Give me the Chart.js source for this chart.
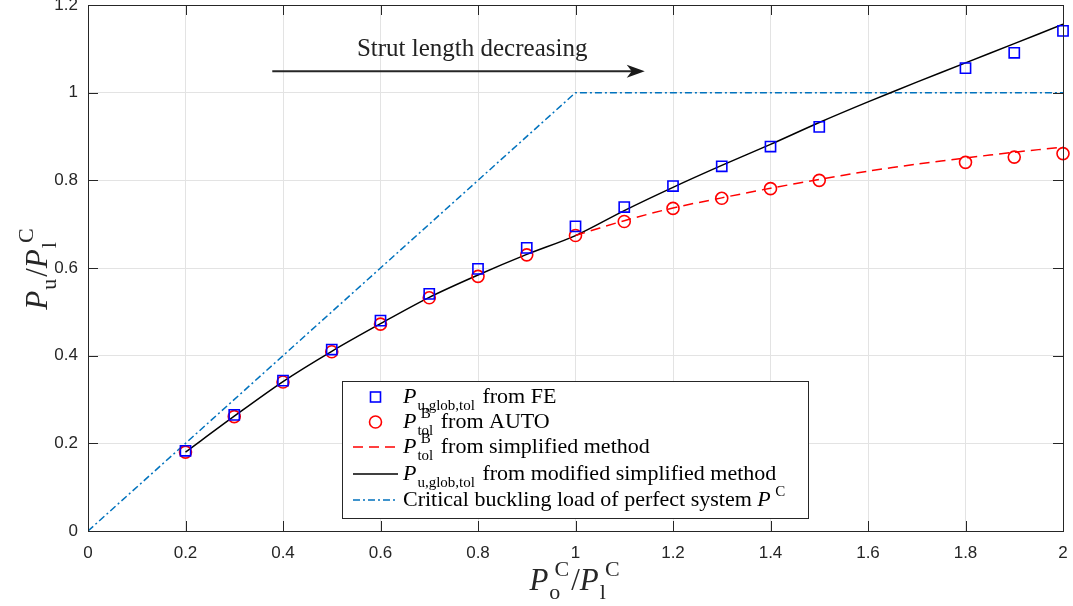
<!DOCTYPE html>
<html>
<head>
<meta charset="utf-8">
<script src="https://cdn.jsdelivr.net/npm/chart.js@4"></script>
<style>
  body { margin: 0; background: #fff; }
</style>
</head>
<body>
<canvas id="chart" width="1073" height="606"></canvas>
<script>
// ---- data ----
const xFE = [0.2, 0.3, 0.4, 0.5, 0.6, 0.7, 0.8, 0.9, 1.0, 1.1, 1.2, 1.3, 1.4, 1.5, 1.8, 1.9, 2.0];
const yFE = [0.183, 0.265, 0.343, 0.414, 0.480, 0.541, 0.598, 0.646, 0.695, 0.739, 0.787, 0.832, 0.877, 0.922, 1.056, 1.091, 1.141];

const xAuto = [0.2, 0.3, 0.4, 0.5, 0.6, 0.7, 0.8, 0.9, 1.0, 1.1, 1.2, 1.3, 1.4, 1.5, 1.8, 1.9, 2.0];
const yAuto = [0.180, 0.261, 0.340, 0.409, 0.472, 0.532, 0.581, 0.630, 0.674, 0.706, 0.736, 0.759, 0.781, 0.800, 0.841, 0.853, 0.861];

const xSimp = [1.0, 1.1, 1.2, 1.3, 1.4, 1.5, 1.6, 1.7, 1.8, 1.9, 2.0];
const ySimp = [0.674, 0.708, 0.737, 0.760, 0.782, 0.802, 0.821, 0.837, 0.851, 0.864, 0.876];

const xMod = [0.2, 0.3, 0.4, 0.5, 0.6, 0.7, 0.8, 0.9, 1.0, 1.1, 1.2, 1.3, 1.4, 1.5, 1.6, 1.7, 1.8, 1.9, 2.0];
const yMod = [0.180, 0.262, 0.341, 0.410, 0.473, 0.533, 0.584, 0.631, 0.674, 0.731, 0.784, 0.834, 0.882, 0.932, 0.979, 1.024, 1.068, 1.112, 1.156];

const xCrit = [0, 1, 2];
const yCrit = [0, 1, 1];

const xTicks = [0, 0.2, 0.4, 0.6, 0.8, 1, 1.2, 1.4, 1.6, 1.8, 2];
const yTicks = [0, 0.2, 0.4, 0.6, 0.8, 1, 1.2];

const arrowText = 'Strut length decreasing';
const arrowFrom = [0.378, 1.049];
const arrowTo = [1.142, 1.049];
const arrowTextAt = [0.788, 1.101];

// legend entries as rich text pieces
const legendLabels = [
  [{t: 'P', i: true}, {sub: 'u,glob,tol'}, {t: ' from FE'}],
  [{t: 'P', i: true}, {sup: 'B', sub: 'tol'}, {t: ' from AUTO'}],
  [{t: 'P', i: true}, {sup: 'B', sub: 'tol'}, {t: ' from simplified method'}],
  [{t: 'P', i: true}, {sub: 'u,glob,tol'}, {t: ' from modified simplified method'}],
  [{t: 'Critical buckling load of perfect system '}, {t: 'P', i: true}, {sup: 'C'}]
];
const xTitle = [{t: 'P', i: true}, {sup: 'C', sub: 'o'}, {t: '/'}, {t: 'P', i: true}, {sup: 'C', sub: 'l'}];
const yTitle = [{t: 'P', i: true}, {sub: 'u'}, {t: '/'}, {t: 'P', i: true}, {sup: 'C', sub: 'l'}];

const pts = (xs, ys) => xs.map((v, k) => ({x: v, y: ys[k]}));

const SERIF = '"Liberation Serif", "DejaVu Serif", serif';
const SUP_DX = 0.2;

function richWidth(ctx, parts, size) {
  let w = 0;
  parts.forEach(p => {
    if (p.t !== undefined) {
      ctx.font = (p.i ? 'italic ' : '') + size + 'px ' + SERIF;
      w += ctx.measureText(p.t).width;
    } else {
      ctx.font = Math.round(size * 0.7) + 'px ' + SERIF;
      const a = p.sup ? ctx.measureText(p.sup).width + size * SUP_DX : 0;
      const b = p.sub ? ctx.measureText(p.sub).width + 1 : 0;
      w += Math.max(a, b) + 2;
    }
  });
  return w;
}

function richText(ctx, parts, x, y, size, color) {
  ctx.fillStyle = color;
  ctx.textBaseline = 'alphabetic';
  ctx.textAlign = 'left';
  parts.forEach(p => {
    if (p.t !== undefined) {
      ctx.font = (p.i ? 'italic ' : '') + size + 'px ' + SERIF;
      ctx.fillText(p.t, x, y);
      x += ctx.measureText(p.t).width;
    } else {
      ctx.font = Math.round(size * 0.7) + 'px ' + SERIF;
      let w = 0;
      if (p.sup) {
        // italic P leans right, so the superscript sits a bit further out
        ctx.fillText(p.sup, x + size * SUP_DX, y - size * 0.46);
        w = ctx.measureText(p.sup).width + size * SUP_DX;
      }
      if (p.sub) {
        ctx.fillText(p.sub, x + 1, y + size * 0.3);
        w = Math.max(w, ctx.measureText(p.sub).width + 1);
      }
      x += w + 2;
    }
  });
}

const overlay = {
  id: 'overlay',
  afterDraw(chart) {
    const {ctx, chartArea: a, scales: {x, y}} = chart;
    ctx.save();
    // box and inward ticks
    ctx.strokeStyle = '#262626';
    ctx.lineWidth = 1;
    ctx.strokeRect(Math.round(a.left) + 0.5, Math.round(a.top) + 0.5, Math.round(a.right - a.left), Math.round(a.bottom - a.top));
    ctx.beginPath();
    xTicks.forEach(v => {
      const px = Math.round(x.getPixelForValue(v)) + 0.5;
      ctx.moveTo(px, a.bottom); ctx.lineTo(px, a.bottom - 10);
      ctx.moveTo(px, a.top); ctx.lineTo(px, a.top + 10);
    });
    yTicks.forEach(v => {
      const py = Math.round(y.getPixelForValue(v)) + 0.5;
      ctx.moveTo(a.left, py); ctx.lineTo(a.left + 10, py);
      ctx.moveTo(a.right, py); ctx.lineTo(a.right - 10, py);
    });
    ctx.stroke();

    // arrow annotation
    const ax0 = x.getPixelForValue(arrowFrom[0]), ay = y.getPixelForValue(arrowFrom[1]);
    const ax1 = x.getPixelForValue(arrowTo[0]);
    ctx.strokeStyle = '#262626';
    ctx.fillStyle = '#1a1a1a';
    ctx.lineWidth = 2;
    ctx.beginPath();
    ctx.moveTo(ax0, ay); ctx.lineTo(ax1 - 10, ay);
    ctx.stroke();
    ctx.beginPath();
    ctx.moveTo(ax1, ay);
    ctx.lineTo(ax1 - 18, ay - 6.5);
    ctx.lineTo(ax1 - 13, ay);
    ctx.lineTo(ax1 - 18, ay + 6.5);
    ctx.closePath();
    ctx.fill();
    ctx.font = '25px ' + SERIF;
    ctx.textAlign = 'center';
    ctx.textBaseline = 'alphabetic';
    ctx.fillStyle = '#222';
    ctx.fillText(arrowText, x.getPixelForValue(arrowTextAt[0]), y.getPixelForValue(arrowTextAt[1]) + 8);

    // axis titles
    const ts = 31;
    const wx = richWidth(ctx, xTitle, ts);
    richText(ctx, xTitle, (a.left + a.right) / 2 - wx / 2, 590, ts, '#262626');
    const wy = richWidth(ctx, yTitle, ts);
    ctx.save();
    ctx.translate(47, (a.top + a.bottom) / 2);
    ctx.rotate(-Math.PI / 2);
    richText(ctx, yTitle, -wy / 2, 0, ts, '#262626');
    ctx.restore();

    // legend
    const lx = 342.5, ly = 381.5, lw = 466, lh = 137;
    ctx.fillStyle = '#fff';
    ctx.fillRect(lx, ly, lw, lh);
    ctx.strokeStyle = '#262626';
    ctx.lineWidth = 1;
    ctx.strokeRect(lx, ly, lw, lh);
    const rows = [397, 422, 447, 474, 500];
    const ds = chart.data.datasets;
    rows.forEach((ry, k) => {
      const d = ds[k];
      ctx.save();
      ctx.strokeStyle = d.borderColor;
      ctx.lineWidth = d.borderWidth;
      if (d.showLine) {
        ctx.setLineDash(d.borderDash || []);
        ctx.beginPath();
        ctx.moveTo(353, ry); ctx.lineTo(398, ry);
        ctx.stroke();
      } else if (d.pointStyle === 'rect') {
        ctx.strokeRect(370.5, ry - 5, 10, 10);
      } else {
        ctx.beginPath();
        ctx.arc(375.5, ry, 6, 0, Math.PI * 2);
        ctx.stroke();
      }
      ctx.restore();
      richText(ctx, legendLabels[k], 403, ry + 6, 22, '#000');
    });
    ctx.restore();
  }
};

new Chart(document.getElementById('chart'), {
  type: 'scatter',
  data: {
    datasets: [
      {label: 'P u,glob,tol from FE', data: pts(xFE, yFE), pointStyle: 'rect', pointRadius: 7.2, pointHoverRadius: 7.2,
       borderColor: '#0000ff', backgroundColor: 'rgba(0,0,0,0)', borderWidth: 1.6, showLine: false, clip: 8},
      {label: 'P B tol from AUTO', data: pts(xAuto, yAuto), pointStyle: 'circle', pointRadius: 6, pointHoverRadius: 6,
       borderColor: '#ff0000', backgroundColor: 'rgba(0,0,0,0)', borderWidth: 1.6, showLine: false, clip: 8},
      {label: 'P B tol from simplified method', data: pts(xSimp, ySimp), showLine: true, pointRadius: 0,
       borderColor: '#ff0000', borderWidth: 1.5, borderDash: [10, 6], tension: 0.3},
      {label: 'P u,glob,tol from modified simplified method', data: pts(xMod, yMod), showLine: true, pointRadius: 0,
       borderColor: '#000000', borderWidth: 1.5, tension: 0.3},
      {label: 'Critical buckling load of perfect system P C', data: pts(xCrit, yCrit), showLine: true, pointRadius: 0,
       borderColor: '#0072bd', borderWidth: 1.5, borderDash: [7, 3, 2, 3]}
    ]
  },
  options: {
    responsive: false,
    animation: false,
    layout: {autoPadding: false, padding: {left: 0, right: 10, top: 5, bottom: 0}},
    plugins: {legend: {display: false}, tooltip: {enabled: false}},
    scales: {
      x: {
        type: 'linear', min: 0, max: 2,
        afterBuildTicks: s => { s.ticks = xTicks.map(v => ({value: v})); },
        afterFit: s => { s.height = 75; s.paddingLeft = 0; s.paddingRight = 0; },
        grid: {color: '#e3e3e3', drawTicks: false},
        border: {display: false},
        ticks: {padding: 12, color: '#262626', font: {family: '"Liberation Sans", Arial, sans-serif', size: 17},
                callback: v => String(Number(v.toFixed(1)))}
      },
      y: {
        type: 'linear', min: 0, max: 1.2,
        afterBuildTicks: s => { s.ticks = yTicks.map(v => ({value: v})); },
        afterFit: s => { s.width = 88; s.paddingTop = 0; s.paddingBottom = 0; },
        grid: {color: '#e3e3e3', drawTicks: false},
        border: {display: false},
        ticks: {padding: 10, color: '#262626', font: {family: '"Liberation Sans", Arial, sans-serif', size: 17},
                callback: v => String(Number(v.toFixed(1)))}
      }
    }
  },
  plugins: [overlay]
});
</script>
</body>
</html>
